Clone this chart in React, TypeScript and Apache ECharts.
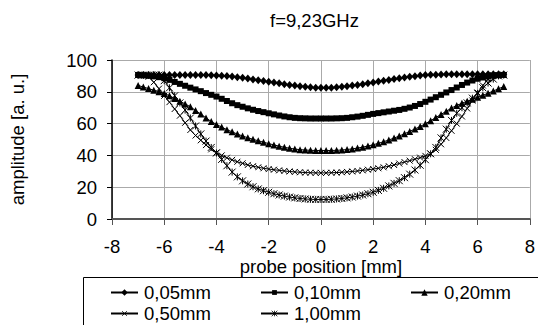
import React, { useEffect, useRef } from "react";
import * as echarts from "echarts";

const FONT = "'Liberation Sans', Arial, sans-serif";

const titleText = "f=9,23GHz";
const xName = "probe position [mm]";
const yName = "amplitude [a. u.]";
const seriesNames = ["0,05mm", "0,10mm", "0,20mm", "0,50mm", "1,00mm"];

const positions = [
  -7, -6.8, -6.6, -6.4, -6.2, -6, -5.8, -5.6, -5.4, -5.2,
  -5, -4.8, -4.6, -4.4, -4.2, -4, -3.8, -3.6, -3.4, -3.2,
  -3, -2.8, -2.6, -2.4, -2.2, -2, -1.8, -1.6, -1.4, -1.2,
  -1, -0.8, -0.6, -0.4, -0.2, 0, 0.2, 0.4, 0.6, 0.8,
  1, 1.2, 1.4, 1.6, 1.8, 2, 2.2, 2.4, 2.6, 2.8,
  3, 3.2, 3.4, 3.6, 3.8, 4, 4.2, 4.4, 4.6, 4.8,
  5, 5.2, 5.4, 5.6, 5.8, 6, 6.2, 6.4, 6.6, 6.8,
  7,
];

const s005 = [
  90.5, 90.5, 90.6, 90.6, 90.6, 90.6, 90.6, 90.6, 90.6, 90.6,
  90.6, 90.6, 90.5, 90.5, 90.4, 90.3, 90.1, 89.9, 89.6, 89.2,
  88.8, 88.3, 87.8, 87.3, 86.8, 86.3, 85.8, 85.3, 84.8, 84.3,
  83.9, 83.5, 83.1, 82.8, 82.6, 82.5, 82.5, 82.6, 82.8, 83.1,
  83.5, 83.9, 84.3, 84.8, 85.3, 85.9, 86.5, 87, 87.5, 88,
  88.5, 89, 89.4, 89.8, 90.2, 90.5, 90.7, 90.8, 90.9, 91,
  91, 91, 91, 91, 91, 91, 91, 91, 91, 91,
  91,
];

const s010 = [
  90.6, 90.4, 90.1, 89.7, 89.2, 88.6, 87.5, 86.2, 85, 83.8,
  82.6, 81.5, 80.4, 79.2, 78.1, 77, 75.6, 74.2, 72.8, 71.6,
  70.6, 69.6, 68.7, 67.9, 67.2, 66.5, 65.8, 65.1, 64.5, 64,
  63.6, 63.4, 63.3, 63.2, 63.2, 63.2, 63.2, 63.2, 63.3, 63.4,
  63.6, 64, 64.4, 64.9, 65.5, 66.1, 66.6, 67.1, 67.6, 68.1,
  68.6, 69.3, 70.1, 71.1, 72.3, 73.7, 75.1, 76.6, 78.1, 79.6,
  81.1, 82.7, 84.3, 85.8, 87.1, 88.2, 89, 89.6, 90.1, 90.4,
  90.6,
];

const s020 = [
  84, 83, 82, 81, 80, 79, 77.5, 75.8, 74, 72.4,
  70.6, 68.3, 66, 63.6, 61.3, 59.5, 57.8, 56.2, 54.8, 53.4,
  52.2, 51.1, 50.1, 49.2, 48.3, 47.4, 46.6, 45.8, 45.1, 44.5,
  44, 43.6, 43.4, 43.2, 43.1, 43.1, 43.1, 43.1, 43.2, 43.4,
  43.7, 44.1, 44.6, 45.2, 45.9, 46.7, 47.6, 48.6, 49.7, 50.9,
  52.2, 53.6, 55.1, 56.6, 58.2, 59.9, 61.8, 63.8, 65.8, 67.8,
  69.8, 71.4, 72.8, 74.1, 75.3, 76.5, 77.8, 79.1, 80.5, 81.9,
  83.3,
];

const s050 = [
  90.5, 90.5, 89.5, 86, 82, 77.5, 73.5, 69.2, 65, 60.5,
  56, 52.5, 49.5, 46.5, 43.8, 41.8, 40, 38.5, 37.2, 36,
  35, 34, 33.2, 32.5, 31.9, 31.4, 31, 30.6, 30.2, 29.9,
  29.6, 29.4, 29.2, 29.1, 29, 29, 29, 29.1, 29.2, 29.4,
  29.6, 29.9, 30.2, 30.6, 31, 31.4, 31.9, 32.5, 33.2, 34,
  34.9, 35.8, 36.7, 37.6, 38.6, 39.7, 41, 43.5, 47, 51,
  55.5, 60, 64.5, 69.5, 74.5, 79.5, 84, 88, 90.5, 90.5,
  90.5,
];

const s100 = [
  90.5, 90.5, 90.5, 90.5, 90.5, 87, 82.5, 77.5, 73, 68.5,
  63.5, 58.5, 53.5, 49, 45, 41.5, 37.5, 33.5, 29.5, 26.5,
  24, 22, 20.3, 18.9, 17.8, 16.8, 15.9, 15.1, 14.4, 13.8,
  13.3, 12.9, 12.6, 12.4, 12.3, 12.3, 12.3, 12.4, 12.6, 12.9,
  13.3, 13.8, 14.4, 15.1, 15.9, 16.8, 18, 19.3, 20.8, 22.4,
  24.1, 26, 28.2, 30.8, 33.8, 37.3, 41, 45, 51, 56.5,
  62, 66.5, 70, 73, 76, 79, 82.5, 85.5, 88, 90,
  90.5,
];

const allValues = [s005, s010, s020, s050, s100];

const symbols = [
  "diamond",
  "rect",
  "triangle",
  "path://M0,0L10,10M10,0L0,10",
  "path://M0,0L10,10M10,0L0,10M5,0L5,10",
];
const symbolSizes: any[] = [[7, 8], 6, 7, 6, 7];
const legendHeights = [8, 6, 8, 6, 7];

const legendPos = [
  { left: 110, top: 283 },
  { left: 260, top: 283 },
  { left: 410, top: 283 },
  { left: 110, top: 304 },
  { left: 260, top: 304 },
];

export default function App() {
  const ref = useRef<HTMLDivElement>(null);

  useEffect(() => {
    if (!ref.current) return;
    const chart = echarts.init(ref.current, null, { renderer: "svg" });

    const series = seriesNames.map((name, i) => {
      const isStroke = i >= 3;
      return {
        name,
        type: "line",
        data: positions.map((x, k) => [x, allValues[i][k]]),
        symbol: symbols[i],
        symbolSize: symbolSizes[i],
        showAllSymbol: true,
        lineStyle: { color: "#000", width: 1 },
        itemStyle: isStroke
          ? { color: "#000", borderColor: "#000", borderWidth: 1 }
          : { color: "#000", borderWidth: 0 },
        emphasis: { disabled: true },
        z: 5 - i,
      };
    });

    const legends = seriesNames.map((name, i) => ({
      data: [name],
      left: legendPos[i].left,
      top: legendPos[i].top,
      padding: 0,
      itemGap: 0,
      itemWidth: 27,
      itemHeight: legendHeights[i],
      selectedMode: false,
      itemStyle: i >= 3 ? { borderWidth: 0.8 } : undefined,
      textStyle: { fontFamily: FONT, fontSize: 18.5, color: "#000", padding: [0, 0, 0, 1] },
    }));

    chart.setOption({
      animation: false,
      backgroundColor: "#fff",
      title: {
        text: titleText,
        left: 270,
        top: 11,
        padding: 0,
        textStyle: { fontFamily: FONT, fontSize: 18.5, fontWeight: "normal", color: "#000" },
      },
      grid: { left: 107, right: 1, top: 60, bottom: 106, containLabel: false },
      xAxis: {
        type: "value",
        min: -8,
        max: 8,
        interval: 2,
        name: xName,
        nameLocation: "middle",
        nameGap: 36,
        nameTextStyle: { fontFamily: FONT, fontSize: 18.5, color: "#000" },
        axisLine: { show: true, onZero: false, lineStyle: { color: "#555", width: 2 } },
        axisTick: { show: true, length: 6, lineStyle: { color: "#555", width: 1 } },
        axisLabel: { fontFamily: FONT, fontSize: 18.5, color: "#000", margin: 18 },
        splitLine: { show: true, lineStyle: { color: "#aaa", width: 1 } },
      },
      yAxis: {
        type: "value",
        min: 0,
        max: 100,
        interval: 20,
        name: yName,
        nameLocation: "middle",
        nameGap: 85,
        nameTextStyle: { fontFamily: FONT, fontSize: 18.5, color: "#000" },
        axisLine: { show: true, onZero: false, lineStyle: { color: "#000", width: 1.5 } },
        axisTick: { show: true, length: 5, lineStyle: { color: "#000", width: 1 } },
        axisLabel: { fontFamily: FONT, fontSize: 18.5, color: "#000", margin: 15 },
        splitLine: { show: true, lineStyle: { color: "#aaa", width: 1 } },
      },
      legend: legends,
      graphic: [
        {
          type: "rect",
          shape: { x: 83.5, y: 277.5, width: 500, height: 100 },
          style: { fill: "none", stroke: "#000", lineWidth: 1 },
          silent: true,
        },
      ],
      series,
    });

    return () => chart.dispose();
  }, []);

  return (
    <div
      ref={ref}
      style={{ position: "fixed", left: 0, top: 0, width: 538, height: 325 }}
    />
  );
}
